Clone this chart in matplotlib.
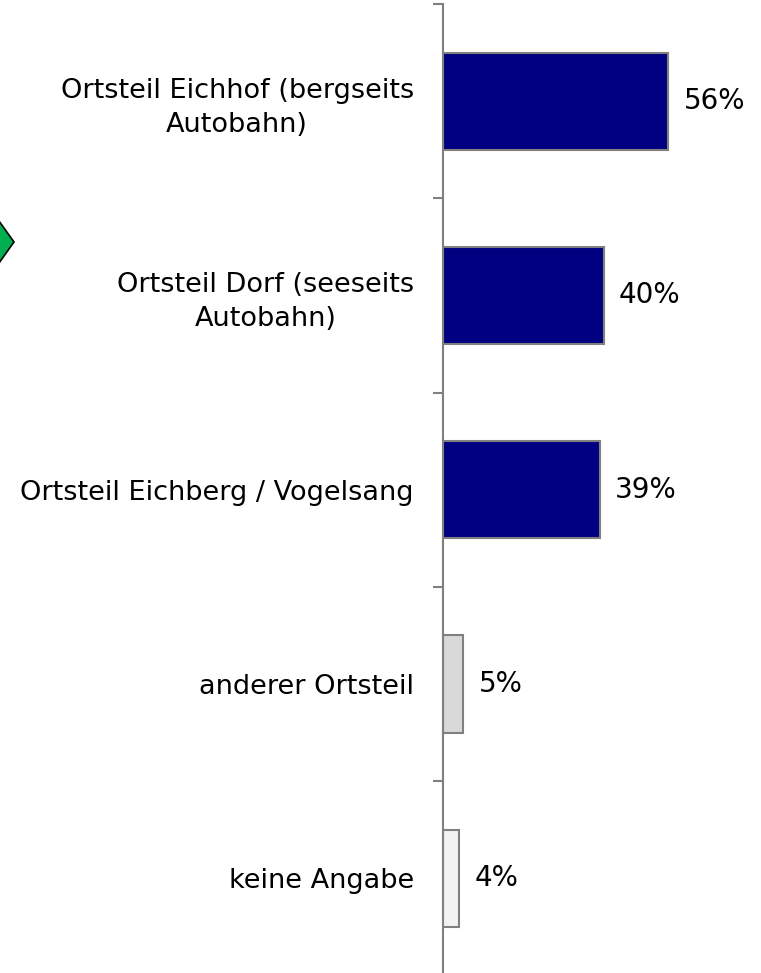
import matplotlib
matplotlib.use('Agg')
import matplotlib.pyplot as plt
from matplotlib.patches import Polygon
from matplotlib.ticker import FixedLocator
import numpy as np

categories = ["Ortsteil Eichhof (bergseits\nAutobahn)",
              "Ortsteil Dorf (seeseits\nAutobahn)",
              "Ortsteil Eichberg / Vogelsang",
              "anderer Ortsteil",
              "keine Angabe"]
values = [56, 40, 39, 5, 4]
bar_colors = ["#000080", "#000080", "#000080", "#d9d9d9", "#f2f2f2"]

plt.rcParams['font.family'] = ['DejaVu Sans']
fig = plt.figure(figsize=(7.61, 9.73), dpi=100)
W, H = 761.0, 973.0
ax = fig.add_axes([443 / W, 1 - 975.5 / H, (W - 443) / W, (975.5 - 4) / H])

y = np.arange(len(values))
ax.barh(y, values, height=0.5, color=bar_colors, edgecolor="#808080", linewidth=1.5)
ax.set_xlim(0, (W - 443) / 4.02)
ax.set_ylim(len(values) - 0.5, -0.5)

for s in ["top", "right", "bottom"]:
    ax.spines[s].set_visible(False)
ax.spines["left"].set_color("#808080")
ax.spines["left"].set_linewidth(1.5)
ax.set_xticks([])

ax.set_yticks(y)
ax.set_yticklabels(categories, fontsize=19.5, linespacing=1.38)
for lbl in ax.get_yticklabels():
    lbl.set_multialignment("center")
ax.tick_params(axis="y", which="major", length=0, pad=21)
ax.yaxis.set_minor_locator(FixedLocator(np.arange(-0.5, len(values), 1.0)))
ax.tick_params(axis="y", which="minor", length=7, width=1.5, color="#808080", direction="out")

for yi, v in zip(y, values):
    ax.annotate(f"{v}%", xy=(v, yi), xytext=(11, 0), textcoords="offset points",
                ha="left", va="center", fontsize=20)

# green diamond at the left edge
cx, cy, w, h = -6, 242, 20, 28
pts = [(cx - w, cy), (cx, cy - h), (cx + w, cy), (cx, cy + h)]
pts = [(px / W, 1 - py / H) for px, py in pts]
fig.add_artist(Polygon(pts, closed=True, transform=fig.transFigure,
                       facecolor="#00b050", edgecolor="black", linewidth=1.2))

fig.savefig("out.png", dpi=100)
